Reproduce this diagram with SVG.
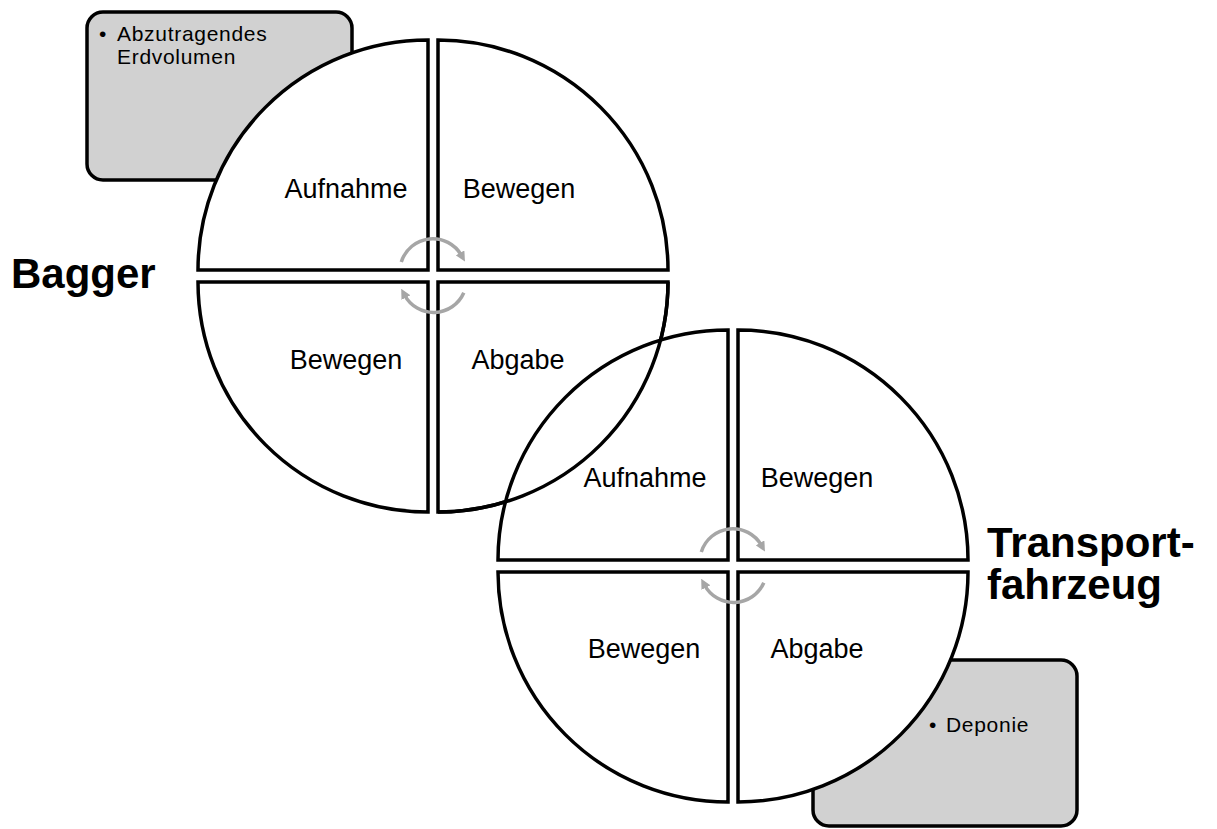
<svg xmlns="http://www.w3.org/2000/svg" width="1217" height="829" viewBox="0 0 1217 829">
  <style>
    .box { fill: #d1d1d1; stroke: #000; stroke-width: 3.5; }
    .quad { fill: #fff; stroke: #000; stroke-width: 3.5; stroke-linejoin: miter; }
    .outline { fill: none; stroke: #000; stroke-width: 3.5; }
    .label { font-family: "Liberation Sans", Arial, sans-serif; font-size: 27px; fill: #000; text-anchor: middle; }
    .note { font-family: "Liberation Sans", Arial, sans-serif; font-size: 21px; fill: #000; letter-spacing: 0.7px; }
    .title { font-family: "Liberation Sans", Arial, sans-serif; font-size: 42px; font-weight: bold; fill: #000; }
    .cycle { fill: none; stroke: #a6a6a6; stroke-width: 3.5; }
  </style>
  <defs>
    <marker id="arrowhead" markerUnits="userSpaceOnUse" markerWidth="10" markerHeight="10" viewBox="0 0 10 10" refX="3" refY="5" orient="auto">
      <path d="M0,0 L10,5 L0,10 Z" fill="#a6a6a6"/>
    </marker>
  </defs>

  <!-- input / output notes (behind the cycles) -->
  <g id="note-erdvolumen">
    <rect class="box" x="87" y="12" width="265" height="168" rx="16" ry="16"/>
    <text class="note" x="99" y="41">•</text>
    <text class="note" x="117" y="41">Abzutragendes</text>
    <text class="note" x="117" y="64">Erdvolumen</text>
  </g>
  <g id="note-deponie">
    <rect class="box" x="813" y="660" width="264" height="166" rx="16" ry="16"/>
    <text class="note" x="929" y="732">•</text>
    <text class="note" x="946" y="732">Deponie</text>
  </g>

  <!-- Bagger cycle -->
  <g id="bagger-aufnahme">
    <path class="quad" d="M428,270 L198,270 A230,230 0 0 1 428,40 Z"/>
    <text class="label" x="346" y="198">Aufnahme</text>
  </g>
  <g id="bagger-bewegen-1">
    <path class="quad" d="M438,270 L438,40 A230,230 0 0 1 668,270 Z"/>
    <text class="label" x="519" y="198">Bewegen</text>
  </g>
  <g id="bagger-abgabe">
    <path class="quad" d="M438,282 L668,282 A230,230 0 0 1 438,512 Z"/>
    <text class="label" x="518" y="369">Abgabe</text>
  </g>
  <g id="bagger-bewegen-2">
    <path class="quad" d="M428,282 L428,512 A230,230 0 0 1 198,282 Z"/>
    <text class="label" x="346" y="369">Bewegen</text>
  </g>

  <!-- Transportfahrzeug cycle -->
  <g id="transport-aufnahme">
    <path class="quad" d="M728,560 L498,560 A230,230 0 0 1 728,330 Z"/>
    <text class="label" x="645" y="487">Aufnahme</text>
  </g>
  <g id="transport-bewegen-1">
    <path class="quad" d="M738,560 L738,330 A230,230 0 0 1 968,560 Z"/>
    <text class="label" x="817" y="487">Bewegen</text>
  </g>
  <g id="transport-abgabe">
    <path class="quad" d="M738,572 L968,572 A230,230 0 0 1 738,802 Z"/>
    <text class="label" x="817" y="658">Abgabe</text>
  </g>
  <g id="transport-bewegen-2">
    <path class="quad" d="M728,572 L728,802 A230,230 0 0 1 498,572 Z"/>
    <text class="label" x="644" y="658">Bewegen</text>
  </g>

  <!-- Bagger outline kept visible where the two cycles overlap -->
  <g id="overlap-outline">
    <path class="outline" d="M668,282 A230,230 0 0 1 438,512"/>
  </g>

  <!-- cycle arrows -->
  <g id="connectors">
    <path class="cycle" d="M401.3,261.9 A33,33 0 0 1 461.5,255.5" marker-end="url(#arrowhead)"/>
    <path class="cycle" d="M463.8,292.8 A33,33 0 0 1 404.5,295" marker-end="url(#arrowhead)"/>
    <path class="cycle" d="M701.3,551.9 A33,33 0 0 1 761.5,545.5" marker-end="url(#arrowhead)"/>
    <path class="cycle" d="M763.8,582.8 A33,33 0 0 1 704.5,585" marker-end="url(#arrowhead)"/>
  </g>

  <!-- titles -->
  <g id="title-bagger">
    <text class="title" x="11" y="288" font-size="43">Bagger</text>
  </g>
  <g id="title-transport">
    <text class="title" x="987" y="557">Transport-<tspan x="987" y="599">fahrzeug</tspan></text>
  </g>
</svg>
